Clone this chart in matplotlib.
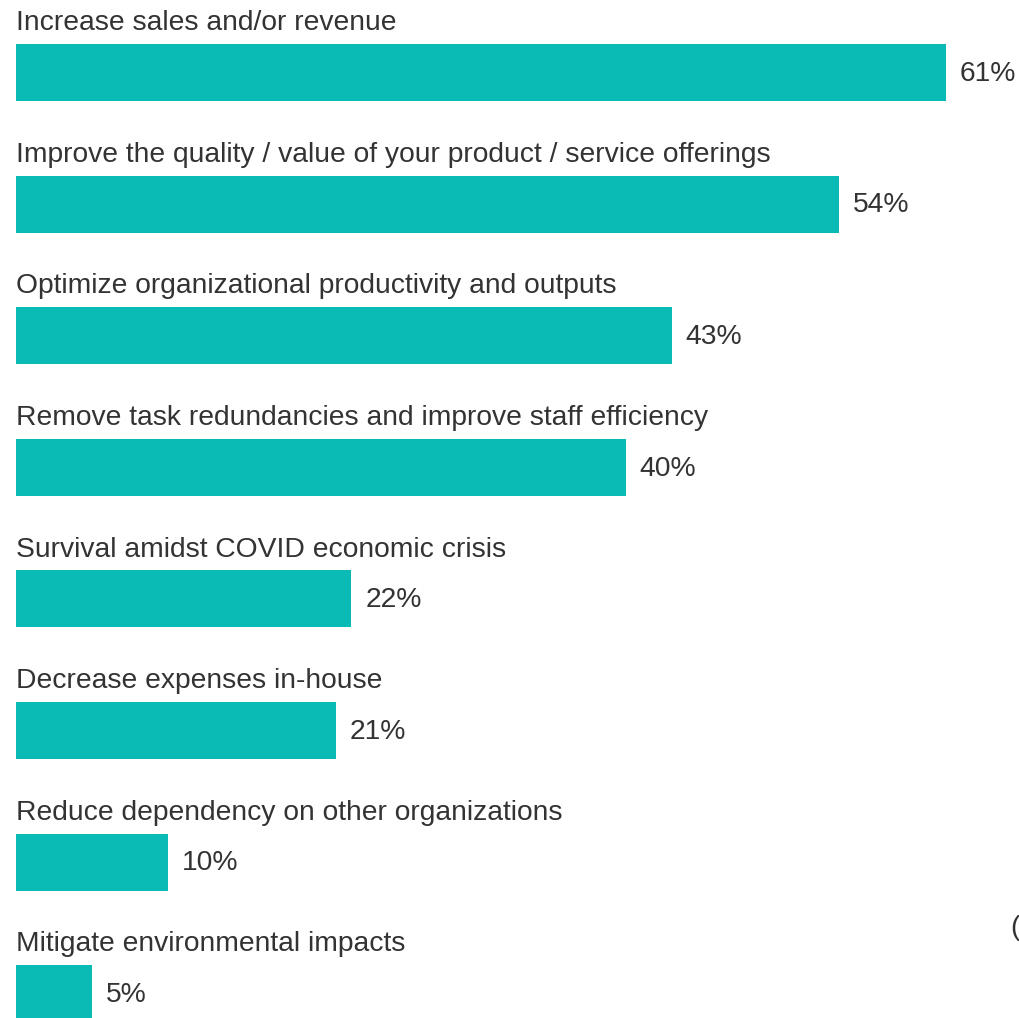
import matplotlib.pyplot as plt

# categories and shares (%)
categories = [
    "Increase sales and/or revenue",
    "Improve the quality / value of your product / service offerings",
    "Optimize organizational productivity and outputs",
    "Remove task redundancies and improve staff efficiency",
    "Survival amidst COVID economic crisis",
    "Decrease expenses in-house",
    "Reduce dependency on other organizations",
    "Mitigate environmental impacts",
]
values = [61, 54, 43, 40, 22, 21, 10, 5]
value_labels = [f"{v}%" for v in values]

plt.rcParams['font.family'] = ['Liberation Sans', 'DejaVu Sans']

fig = plt.figure(figsize=(10.2, 10.18), dpi=100)
ax = fig.add_axes([0, 0, 1, 1])

teal = "#0abab5"
txt = "#333333"
pos = list(range(len(categories)))

ax.barh(pos, values, height=0.433, color=teal, left=0)

for i, (cat, v, lab) in enumerate(zip(categories, values, value_labels)):
    ax.text(0, i - 0.375, cat, ha='left', va='center', fontsize=20.3, color=txt)
    ax.text(v + 0.9, i + 0.01, lab, ha='left', va='center', fontsize=20.3, color=txt)

# stray bracket at right edge
ax.text(65.2, 6.5, "(", ha='left', va='center', fontsize=20.3, color=txt)

px = 15.25
ax.set_xlim(-16 / px, (1020 - 16) / px)
ax.set_ylim((1018 - 72.5) / 131.6, -72.5 / 131.6)
ax.axis('off')

fig.savefig("out.png", dpi=100)
